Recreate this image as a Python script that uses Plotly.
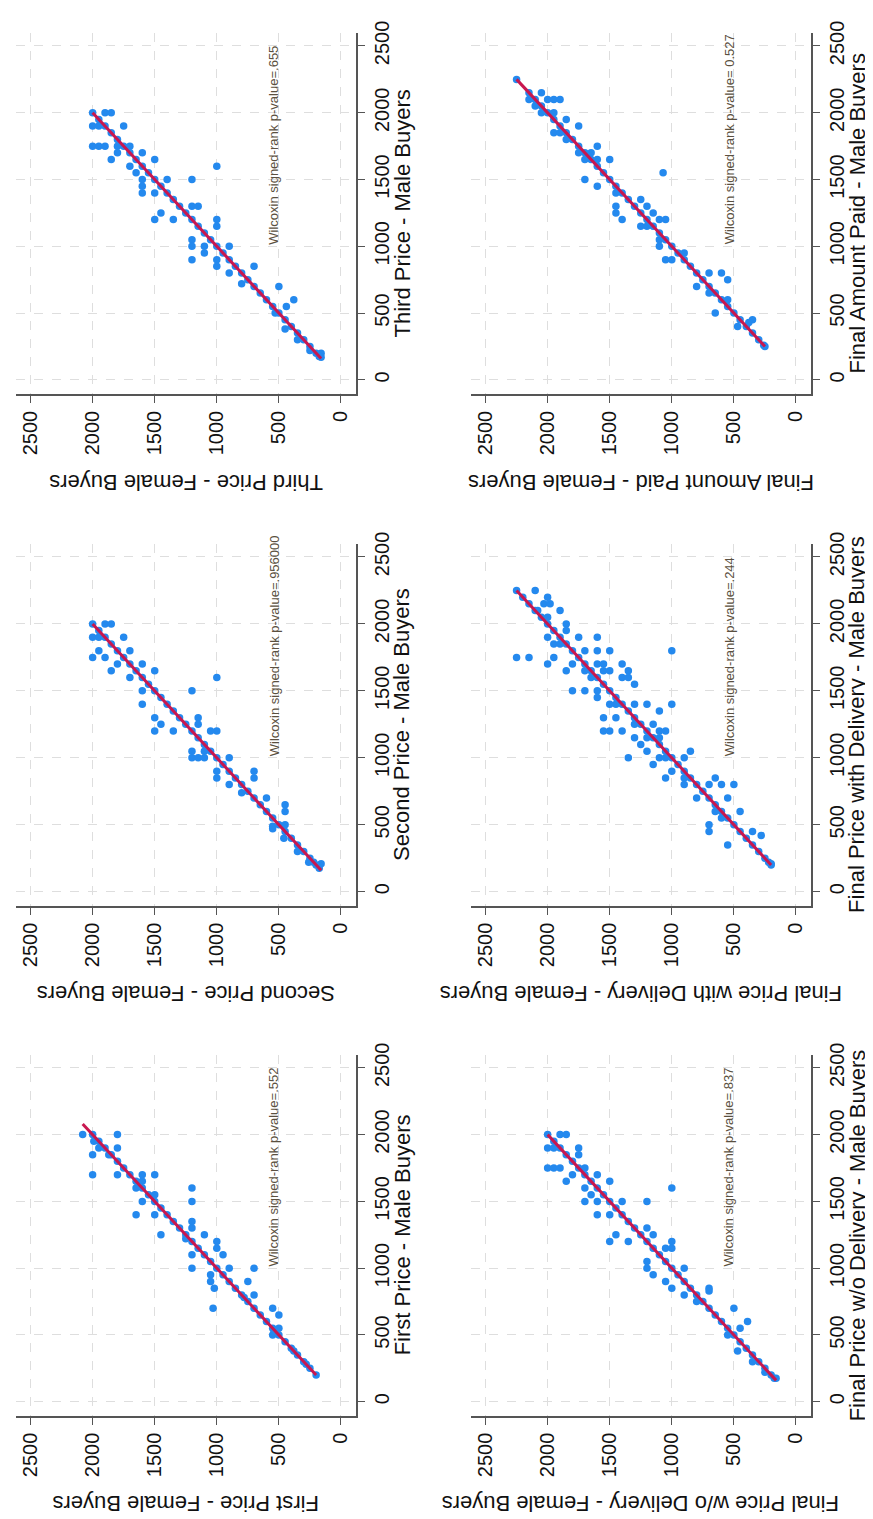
import plotly.graph_objects as go

W, H = 873, 1519

# ---------------- data (male value, female value) ----------------
first_male = [200, 250, 280, 300, 350, 380, 400, 450, 500, 550, 600, 650, 700, 750, 800, 850, 900, 950, 1000, 1050,
              1100, 1150, 1200, 1250, 1300, 1350, 1400, 1450, 1500, 1550, 1600, 1650, 1700, 1750, 1800, 1850, 1900,
              1950, 2000,
              2000, 2000, 1950, 1900, 1900, 1850, 1850, 1700, 1700, 1700, 1700, 1650, 1600, 1600, 1550, 1500, 1500,
              1400, 1400, 1350, 1300, 1250, 1250, 1220, 1200, 1150, 1100, 1100, 1000, 1000, 950, 900, 850, 700, 900,
              1000, 800, 780, 700, 650, 500, 550, 520]
first_female = [200, 250, 280, 300, 350, 380, 400, 450, 500, 550, 600, 650, 700, 750, 800, 850, 900, 950, 1000, 1050,
                1100, 1150, 1200, 1250, 1300, 1350, 1400, 1450, 1500, 1550, 1600, 1650, 1700, 1750, 1800, 1850, 1900,
                1950, 2000,
                2080, 1800, 1990, 1800, 1950, 2000, 1870, 2000, 1800, 1600, 1500, 1600, 1650, 1200, 1500, 1600, 1200,
                1650, 1500, 1200, 1200, 1450, 1100, 1250, 1000, 1000, 950, 1200, 1200, 900, 1050, 1050, 1020, 1030, 750,
                700, 700, 780, 550, 500, 550, 500, 540]

second_male = [175, 200, 220, 250, 300, 350, 400, 450, 500, 550, 600, 650, 700, 750, 800, 850, 900, 950, 1000, 1050,
               1100, 1150, 1200, 1250, 1300, 1350, 1400, 1450, 1500, 1550, 1600, 1650, 1700, 1750, 1800, 1850, 1900,
               1950, 2000,
               2000, 2000, 1900, 1900, 1900, 1800, 1750, 1750, 1650, 1700, 1800, 1600, 1700, 1650, 1500, 1400, 1300,
               1250, 1200, 1200, 1500, 1600, 1300, 1250, 1050, 1000, 1000, 1000, 1050, 1200, 1200, 900, 850, 1000, 800,
               740, 900, 850, 700, 650, 600, 500, 490, 470, 400, 300, 220, 210]
second_female = [175, 200, 220, 250, 300, 350, 400, 450, 500, 550, 600, 650, 700, 750, 800, 850, 900, 950, 1000, 1050,
                 1100, 1150, 1200, 1250, 1300, 1350, 1400, 1450, 1500, 1550, 1600, 1650, 1700, 1750, 1800, 1850, 1900,
                 1950, 2000,
                 1900, 1850, 2000, 1950, 1750, 1950, 2000, 1900, 1850, 1800, 1700, 1700, 1600, 1500, 1600, 1600, 1500,
                 1450, 1500, 1350, 1200, 1000, 1150, 1150, 1200, 1200, 1150, 1100, 1100, 1000, 1050, 1000, 1000, 900,
                 900, 800, 700, 700, 600, 450, 450, 450, 550, 550, 460, 350, 260, 160]

third_male = [175, 200, 250, 300, 350, 400, 450, 500, 550, 600, 650, 700, 750, 800, 850, 900, 950, 1000, 1050, 1100,
              1150, 1200, 1250, 1300, 1350, 1400, 1450, 1500, 1550, 1600, 1650, 1700, 1750, 1800, 1850, 1900, 1950,
              2000,
              2000, 2000, 1900, 1900, 1900, 1750, 1750, 1750, 1650, 1700, 1750, 1750, 1700, 1600, 1650, 1550, 1500,
              1450, 1400, 1400, 1500, 1500, 1600, 1250, 1200, 1200, 1300, 1300, 1050, 1000, 1000, 950, 1200, 1150,
              900, 900, 850, 1000, 800, 720, 850, 700, 600, 550, 500, 380, 300, 220, 200, 170]
third_female = [175, 200, 250, 300, 350, 400, 450, 500, 550, 600, 650, 700, 750, 800, 850, 900, 950, 1000, 1050, 1100,
                1150, 1200, 1250, 1300, 1350, 1400, 1450, 1500, 1550, 1600, 1650, 1700, 1750, 1800, 1850, 1900, 1950,
                2000,
                1900, 1850, 2000, 1950, 1750, 2000, 1950, 1900, 1850, 1800, 1800, 1700, 1600, 1700, 1500, 1650, 1600,
                1600, 1600, 1500, 1400, 1200, 1000, 1450, 1500, 1350, 1200, 1150, 1200, 1200, 1100, 1100, 1000, 1000,
                1200, 1000, 1000, 900, 900, 800, 700, 500, 380, 440, 530, 450, 350, 250, 160, 160]

wodel_male = [175, 200, 250, 300, 350, 400, 450, 500, 550, 600, 650, 700, 750, 800, 850, 900, 950, 1000, 1050, 1100,
              1150, 1200, 1250, 1300, 1350, 1400, 1450, 1500, 1550, 1600, 1650, 1700, 1750, 1800, 1850, 1900, 1950,
              2000,
              2000, 2000, 1900, 1900, 1900, 1850, 1750, 1750, 1750, 1650, 1700, 1750, 1600, 1500, 1700, 1650, 1550,
              1500, 1400, 1400, 1500, 1500, 1600, 1250, 1200, 1200, 1300, 1250, 1050, 1000, 950, 1150, 1200, 1150,
              900, 850, 1000, 800, 750, 850, 830, 700, 600, 550, 500, 380, 300, 220, 175]
wodel_female = [175, 200, 250, 300, 350, 400, 450, 500, 550, 600, 650, 700, 750, 800, 850, 900, 950, 1000, 1050, 1100,
                1150, 1200, 1250, 1300, 1350, 1400, 1450, 1500, 1550, 1600, 1650, 1700, 1750, 1800, 1850, 1900, 1950,
                2000,
                1900, 1850, 2000, 1950, 1750, 1750, 2000, 1950, 1900, 1850, 1800, 1700, 1700, 1700, 1600, 1500, 1650,
                1600, 1600, 1500, 1400, 1200, 1000, 1450, 1500, 1350, 1200, 1150, 1200, 1200, 1150, 1050, 1000, 1000,
                1050, 1000, 900, 900, 800, 700, 700, 500, 390, 450, 550, 470, 350, 250, 160]

wdel_male = [200, 220, 250, 300, 350, 400, 450, 500, 550, 600, 650, 700, 750, 800, 850, 900, 950, 1000, 1050, 1100,
             1150, 1200, 1250, 1300, 1350, 1400, 1450, 1500, 1550, 1600, 1650, 1700, 1750, 1800, 1850, 1900, 1950,
             2000, 2050, 2100, 2150, 2200, 2250,
             2250, 2200, 2150, 2150, 2100, 2100, 2050, 2000, 1950, 1900, 1900, 1850, 1850, 1900, 1750, 1750, 1700,
             1750, 1650, 1700, 1500, 1500, 1800, 1800, 1800, 1800, 1650, 1700, 1600, 1700, 1650, 1650, 1500, 1450,
             1700, 1650, 1600, 1600, 1550, 1400, 1400, 1400, 1400, 1400, 1350, 1300, 1300, 1200, 1200, 1200, 1250,
             1150, 1100, 1150, 1050, 1250, 1150, 1200, 1200, 1000, 950, 1000, 1000, 900, 850, 1000, 1050, 850, 800,
             700, 800, 850, 800, 800, 500, 450, 600, 700, 550, 600, 350, 450, 420, 210]
wdel_female = [200, 220, 250, 300, 350, 400, 450, 500, 550, 600, 650, 700, 750, 800, 850, 900, 950, 1000, 1050, 1100,
               1150, 1200, 1250, 1300, 1350, 1400, 1450, 1500, 1550, 1600, 1650, 1700, 1750, 1800, 1850, 1900, 1950,
               2000, 2050, 2100, 2150, 2200, 2250,
               2100, 2000, 2030, 1980, 2080, 1900, 2000, 1850, 1850, 2000, 1750, 1950, 1900, 1600, 2250, 2150, 2000,
               1950, 1850, 1800, 1800, 1700, 1700, 1600, 1500, 1000, 1700, 1600, 1650, 1550, 1550, 1500, 1600, 1600,
               1400, 1350, 1400, 1350, 1300, 1450, 1500, 1300, 1200, 1000, 1100, 1550, 1450, 1550, 1500, 1400, 1300,
               1300, 1250, 1200, 1200, 1150, 1100, 1100, 1050, 1350, 1150, 1100, 1050, 1000, 1050, 900, 850, 900, 900,
               800, 700, 650, 600, 500, 700, 700, 650, 550, 600, 450, 550, 350, 280, 200]

paid_male = [260, 300, 350, 400, 450, 500, 550, 600, 650, 700, 750, 800, 850, 900, 950, 1000, 1050, 1100, 1150, 1200,
             1250, 1300, 1350, 1400, 1450, 1500, 1550, 1600, 1650, 1700, 1750, 1800, 1850, 1900, 1950, 2000, 2050,
             2100, 2150, 2250,
             2150, 2100, 2050, 2100, 2100, 2100, 2000, 2000, 1850, 1850, 1950, 1900, 1800, 1700, 1650, 1700, 1750,
             1650, 1650, 1500, 1450, 1400, 1300, 1250, 1200, 1350, 1300, 1250, 1150, 1150, 1200, 1200, 1550, 1050,
             1000, 900, 900, 950, 700, 800, 800, 750, 600, 500, 650, 450, 430, 400, 250]
paid_female = [260, 300, 350, 400, 450, 500, 550, 600, 650, 700, 750, 800, 850, 900, 950, 1000, 1050, 1100, 1150, 1200,
               1250, 1300, 1350, 1400, 1450, 1500, 1550, 1600, 1650, 1700, 1750, 1800, 1850, 1900, 1950, 2000, 2050,
               2100, 2150, 2250,
               2050, 2150, 2100, 2000, 1950, 1900, 2050, 1950, 1950, 1900, 1850, 1750, 1850, 1750, 1700, 1650, 1600,
               1600, 1500, 1700, 1600, 1450, 1450, 1450, 1400, 1250, 1200, 1150, 1250, 1200, 1100, 1050, 1070, 1100,
               1100, 1050, 1000, 900, 800, 700, 600, 550, 550, 650, 700, 350, 380, 470, 250]

male_titles = ["First Price - Male Buyers", "Second Price - Male Buyers", "Third Price - Male Buyers",
               "Final Price w/o Delivery - Male Buyers", "Final Price with Delivery - Male Buyers",
               "Final Amount Paid - Male Buyers"]
female_titles = ["First Price - Female Buyers", "Second Price - Female Buyers", "Third Price - Female Buyers",
                 "Final Price w/o Delivery - Female Buyers", "Final Price with Delivery - Female Buyers",
                 "Final Amount Paid - Female Buyers"]
p_labels = ["Wilcoxin signed-rank p-value=.552", "Wilcoxin signed-rank p-value=.956000",
            "Wilcoxin signed-rank p-value=.655", "Wilcoxin signed-rank p-value=.837",
            "Wilcoxin signed-rank p-value=.244", "Wilcoxin signed-rank p-value= 0.527"]
tick_vals = [0, 500, 1000, 1500, 2000, 2500]
tick_text = ["0", "500", "1000", "1500", "2000", "2500"]

# ---------------- layout geometry (pixels in the rotated page) ----------------
col_px = [(8, 348), (463, 803)]                      # left / right column
row_px = [(1043, 1407), (528, 893), (13, 377)]       # bottom / middle / top row (top, bottom)
panels = [
    (first_male, first_female, 0, 0),
    (second_male, second_female, 0, 1),
    (third_male, third_female, 0, 2),
    (wodel_male, wodel_female, 1, 0),
    (wdel_male, wdel_female, 1, 1),
    (paid_male, paid_female, 1, 2),
]

DOT = "#2489ee"
LINE = "#c8174f"
AXC = "#555555"
GRID = "#dedede"
FONT = "Liberation Sans, Arial, sans-serif"

fig = go.Figure()
layout = dict(width=W, height=H, margin=dict(l=0, r=0, t=0, b=0), paper_bgcolor="white",
              plot_bgcolor="white", showlegend=False, annotations=[])

for i, (m, f, c, r) in enumerate(panels):
    k = "" if i == 0 else str(i + 1)
    xa, ya = "x" + k, "y" + k
    x0, x1 = col_px[c]
    yt, yb = row_px[r]
    lo = min(min(m), min(f))
    hi = max(max(m), max(f))
    fig.add_trace(go.Scatter(x=f, y=m, mode="markers", xaxis=xa, yaxis=ya,
                             marker=dict(color=DOT, size=7.5, line=dict(width=0)), hoverinfo="skip"))
    fig.add_trace(go.Scatter(x=[lo, hi], y=[lo, hi], mode="lines", xaxis=xa, yaxis=ya,
                             line=dict(color=LINE, width=3), hoverinfo="skip"))
    layout["xaxis" + k] = dict(domain=[x0 / W, x1 / W], range=[2617, -121], anchor=ya,
                               showline=True, linecolor=AXC, linewidth=1.5, ticks="outside", ticklen=7,
                               tickcolor=AXC, tickwidth=1.3, tickvals=tick_vals, ticktext=tick_text,
                               tickangle=-90, tickfont=dict(family=FONT, size=20, color="#111"),
                               showgrid=True, gridcolor=GRID, griddash="dash", gridwidth=1,
                               zeroline=False)
    layout["yaxis" + k] = dict(domain=[(H - yb) / H, (H - yt) / H], range=[-106, 2598], anchor=xa,
                               side="right", showline=True, linecolor=AXC, linewidth=1.5, ticks="outside",
                               ticklen=7, tickcolor=AXC, tickwidth=1.3, tickvals=tick_vals, ticktext=tick_text,
                               tickangle=-90, tickfont=dict(family=FONT, size=20, color="#111"),
                               showgrid=True, gridcolor=GRID, griddash="dash", gridwidth=1,
                               zeroline=False)
    # male (vertical) axis title, right of the panel
    layout["annotations"].append(dict(text=male_titles[i], xref="paper", yref="paper",
                                      x=(x1 + 46) / W, y=(H - (yt + yb) / 2) / H, textangle=-90,
                                      xanchor="center", yanchor="middle", showarrow=False,
                                      font=dict(family=FONT, size=22, color="#111")))
    # female (horizontal) axis title, upside down below the panel
    layout["annotations"].append(dict(text=female_titles[i], xref="paper", yref="paper",
                                      x=(x0 + x1) / 2 / W, y=(H - (yb + 89)) / H, textangle=180,
                                      xanchor="center", yanchor="middle", showarrow=False,
                                      font=dict(family=FONT, size=22, color="#111")))
    # p-value note
    layout["annotations"].append(dict(text=p_labels[i], xref=xa, yref=ya, x=540, y=1000,
                                      textangle=-90, xanchor="center", yanchor="bottom", showarrow=False,
                                      font=dict(family=FONT, size=13, color="#5a5040")))

fig.update_layout(**layout)
fig.write_html("out.html")
